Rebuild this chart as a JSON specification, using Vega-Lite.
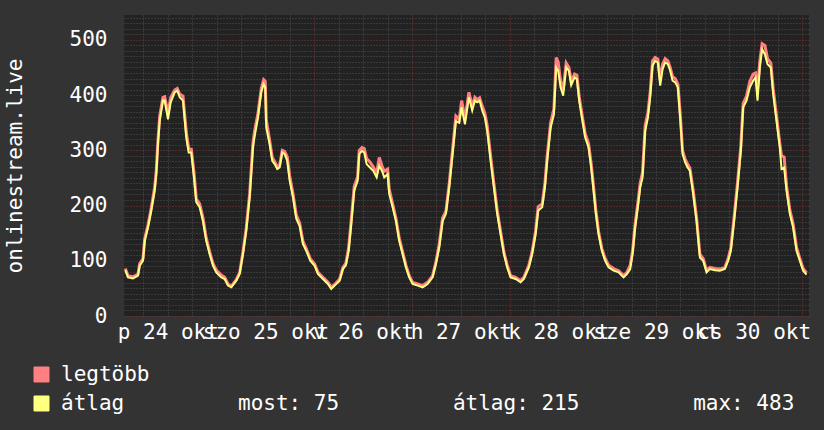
{
  "$schema": "https://vega.github.io/schema/vega-lite/v6.json",
  "width": 685,
  "height": 301,
  "autosize": {"type": "none"},
  "padding": {"left": 124, "top": 15, "right": 15, "bottom": 114},
  "background": "#333333",
  "config": {
    "view": {"fill": "#222222", "stroke": null},
    "font": "DejaVu Sans Mono",
    "axis": {
      "labelFont": "DejaVu Sans Mono",
      "labelFontSize": 21,
      "labelColor": "#ffffff",
      "titleFont": "DejaVu Sans Mono",
      "titleFontSize": 21,
      "titleFontWeight": "normal",
      "titleColor": "#ffffff",
      "domain": false,
      "ticks": false,
      "grid": true,
      "gridWidth": 1,
      "gridDash": [1, 2],
      "gridOpacity": 1
    }
  },
  "data": {
    "values": [
      {"ora": 1.55, "legtöbb": 86, "átlag": 83},
      {"ora": 2.21, "legtöbb": 73, "átlag": 70},
      {"ora": 3.44, "legtöbb": 71, "átlag": 68},
      {"ora": 4.67, "legtöbb": 76, "átlag": 73},
      {"ora": 5.09, "legtöbb": 95, "átlag": 91},
      {"ora": 5.90, "legtöbb": 104, "átlag": 100},
      {"ora": 6.32, "legtöbb": 140, "átlag": 136},
      {"ora": 7.13, "legtöbb": 165, "átlag": 160},
      {"ora": 7.94, "legtöbb": 196, "átlag": 191},
      {"ora": 8.77, "legtöbb": 233, "átlag": 227},
      {"ora": 9.17, "legtöbb": 264, "átlag": 257},
      {"ora": 9.58, "legtöbb": 318, "átlag": 311},
      {"ora": 10.00, "legtöbb": 362, "átlag": 353},
      {"ora": 10.81, "legtöbb": 396, "átlag": 390},
      {"ora": 11.23, "legtöbb": 397, "átlag": 390},
      {"ora": 12.04, "legtöbb": 366, "átlag": 356},
      {"ora": 12.70, "legtöbb": 395, "átlag": 387},
      {"ora": 13.69, "legtöbb": 409, "átlag": 405},
      {"ora": 14.33, "legtöbb": 412, "átlag": 408},
      {"ora": 14.92, "legtöbb": 402, "átlag": 396},
      {"ora": 15.73, "legtöbb": 398, "átlag": 390},
      {"ora": 16.54, "legtöbb": 333, "átlag": 323},
      {"ora": 17.13, "legtöbb": 303, "átlag": 296},
      {"ora": 17.77, "legtöbb": 302, "átlag": 296},
      {"ora": 18.43, "legtöbb": 260, "átlag": 251},
      {"ora": 19.00, "legtöbb": 212, "átlag": 206},
      {"ora": 19.83, "legtöbb": 203, "átlag": 197},
      {"ora": 20.64, "legtöbb": 178, "átlag": 172},
      {"ora": 21.45, "legtöbb": 141, "átlag": 136},
      {"ora": 22.29, "legtöbb": 116, "átlag": 112},
      {"ora": 23.10, "legtöbb": 95, "átlag": 91},
      {"ora": 23.91, "legtöbb": 83, "átlag": 79},
      {"ora": 25.14, "legtöbb": 74, "átlag": 70},
      {"ora": 25.97, "legtöbb": 70, "átlag": 67},
      {"ora": 26.79, "legtöbb": 58, "átlag": 55},
      {"ora": 27.60, "legtöbb": 54, "átlag": 52},
      {"ora": 28.83, "legtöbb": 66, "átlag": 64},
      {"ora": 29.66, "legtöbb": 79, "átlag": 76},
      {"ora": 30.47, "legtöbb": 116, "átlag": 112},
      {"ora": 31.28, "legtöbb": 160, "átlag": 154},
      {"ora": 32.12, "legtöbb": 222, "átlag": 215},
      {"ora": 32.93, "legtöbb": 314, "átlag": 305},
      {"ora": 33.35, "legtöbb": 336, "átlag": 326},
      {"ora": 34.16, "legtöbb": 367, "átlag": 359},
      {"ora": 34.97, "legtöbb": 412, "átlag": 405},
      {"ora": 35.56, "legtöbb": 428, "átlag": 420},
      {"ora": 35.95, "legtöbb": 425, "átlag": 414},
      {"ora": 36.20, "legtöbb": 355, "átlag": 341},
      {"ora": 37.03, "legtöbb": 318, "átlag": 311},
      {"ora": 37.67, "legtöbb": 287, "átlag": 281},
      {"ora": 38.26, "legtöbb": 280, "átlag": 275},
      {"ora": 38.90, "legtöbb": 270, "átlag": 266},
      {"ora": 39.49, "legtöbb": 273, "átlag": 269},
      {"ora": 40.13, "legtöbb": 300, "átlag": 296},
      {"ora": 40.72, "legtöbb": 298, "átlag": 293},
      {"ora": 41.36, "legtöbb": 288, "átlag": 281},
      {"ora": 41.95, "legtöbb": 254, "átlag": 245},
      {"ora": 42.76, "legtöbb": 222, "átlag": 215},
      {"ora": 43.57, "legtöbb": 183, "átlag": 176},
      {"ora": 44.41, "legtöbb": 168, "átlag": 163},
      {"ora": 45.22, "legtöbb": 135, "átlag": 130},
      {"ora": 46.03, "legtöbb": 122, "átlag": 118},
      {"ora": 47.01, "legtöbb": 104, "átlag": 100},
      {"ora": 48.09, "legtöbb": 94, "átlag": 91},
      {"ora": 48.90, "legtöbb": 79, "átlag": 76},
      {"ora": 50.13, "legtöbb": 70, "átlag": 67},
      {"ora": 51.36, "legtöbb": 61, "átlag": 58},
      {"ora": 52.17, "legtöbb": 52, "átlag": 49},
      {"ora": 53.01, "legtöbb": 57, "átlag": 55},
      {"ora": 54.24, "legtöbb": 67, "átlag": 64},
      {"ora": 55.05, "legtöbb": 88, "átlag": 85},
      {"ora": 55.78, "legtöbb": 96, "átlag": 92},
      {"ora": 56.45, "legtöbb": 124, "átlag": 118},
      {"ora": 57.01, "legtöbb": 168, "átlag": 160},
      {"ora": 57.82, "legtöbb": 235, "átlag": 227},
      {"ora": 58.66, "legtöbb": 252, "átlag": 245},
      {"ora": 59.05, "legtöbb": 300, "átlag": 293},
      {"ora": 59.71, "legtöbb": 305, "átlag": 299},
      {"ora": 60.28, "legtöbb": 303, "átlag": 296},
      {"ora": 60.87, "legtöbb": 285, "átlag": 275},
      {"ora": 61.68, "legtöbb": 279, "átlag": 269},
      {"ora": 62.49, "legtöbb": 270, "átlag": 263},
      {"ora": 63.33, "legtöbb": 258, "átlag": 251},
      {"ora": 63.97, "legtöbb": 287, "átlag": 272},
      {"ora": 64.63, "legtöbb": 272, "átlag": 263},
      {"ora": 65.20, "legtöbb": 262, "átlag": 251},
      {"ora": 66.03, "legtöbb": 266, "átlag": 257},
      {"ora": 66.42, "legtöbb": 230, "átlag": 221},
      {"ora": 67.26, "legtöbb": 203, "átlag": 197},
      {"ora": 68.07, "legtöbb": 177, "átlag": 172},
      {"ora": 68.88, "legtöbb": 141, "átlag": 136},
      {"ora": 69.72, "legtöbb": 116, "átlag": 112},
      {"ora": 70.53, "legtöbb": 92, "átlag": 88},
      {"ora": 71.34, "legtöbb": 73, "átlag": 70},
      {"ora": 72.17, "legtöbb": 61, "átlag": 58},
      {"ora": 73.40, "legtöbb": 58, "átlag": 55},
      {"ora": 74.63, "legtöbb": 55, "átlag": 52},
      {"ora": 75.86, "legtöbb": 61, "átlag": 58},
      {"ora": 77.09, "legtöbb": 73, "átlag": 70},
      {"ora": 77.90, "legtöbb": 98, "átlag": 94},
      {"ora": 78.71, "legtöbb": 130, "átlag": 124},
      {"ora": 79.55, "legtöbb": 178, "átlag": 172},
      {"ora": 80.36, "legtöbb": 190, "átlag": 185},
      {"ora": 81.17, "legtöbb": 240, "átlag": 233},
      {"ora": 82.00, "legtöbb": 302, "átlag": 293},
      {"ora": 82.81, "legtöbb": 362, "átlag": 353},
      {"ora": 83.63, "legtöbb": 356, "átlag": 350},
      {"ora": 84.22, "legtöbb": 390, "átlag": 378},
      {"ora": 85.03, "legtöbb": 356, "átlag": 347},
      {"ora": 86.01, "legtöbb": 405, "átlag": 396},
      {"ora": 86.82, "legtöbb": 380, "átlag": 372},
      {"ora": 87.48, "legtöbb": 396, "átlag": 390},
      {"ora": 88.05, "legtöbb": 392, "átlag": 387},
      {"ora": 88.64, "legtöbb": 395, "átlag": 390},
      {"ora": 89.28, "legtöbb": 380, "átlag": 372},
      {"ora": 89.94, "legtöbb": 367, "átlag": 359},
      {"ora": 90.51, "legtöbb": 344, "átlag": 335},
      {"ora": 91.34, "legtöbb": 290, "átlag": 281},
      {"ora": 92.15, "legtöbb": 240, "átlag": 233},
      {"ora": 92.97, "legtöbb": 191, "átlag": 185},
      {"ora": 93.80, "legtöbb": 153, "átlag": 148},
      {"ora": 94.61, "legtöbb": 116, "átlag": 112},
      {"ora": 95.42, "legtöbb": 92, "átlag": 88},
      {"ora": 96.25, "legtöbb": 73, "átlag": 70},
      {"ora": 97.49, "legtöbb": 70, "átlag": 67},
      {"ora": 98.71, "legtöbb": 64, "átlag": 61},
      {"ora": 99.52, "legtöbb": 70, "átlag": 67},
      {"ora": 100.75, "legtöbb": 92, "átlag": 88},
      {"ora": 101.56, "legtöbb": 117, "átlag": 112},
      {"ora": 102.40, "legtöbb": 154, "átlag": 148},
      {"ora": 103.04, "legtöbb": 198, "átlag": 191},
      {"ora": 104.02, "legtöbb": 203, "átlag": 197},
      {"ora": 104.69, "legtöbb": 241, "átlag": 233},
      {"ora": 105.25, "legtöbb": 290, "átlag": 281},
      {"ora": 106.09, "legtöbb": 350, "átlag": 341},
      {"ora": 106.90, "legtöbb": 375, "átlag": 365},
      {"ora": 107.46, "legtöbb": 468, "átlag": 450},
      {"ora": 107.95, "legtöbb": 460, "átlag": 444},
      {"ora": 108.54, "legtöbb": 425, "átlag": 414},
      {"ora": 109.18, "legtöbb": 410, "átlag": 399},
      {"ora": 109.92, "legtöbb": 458, "átlag": 450},
      {"ora": 110.58, "legtöbb": 450, "átlag": 444},
      {"ora": 111.15, "legtöbb": 425, "átlag": 418},
      {"ora": 111.98, "legtöbb": 438, "átlag": 432},
      {"ora": 112.55, "legtöbb": 436, "átlag": 429},
      {"ora": 113.11, "legtöbb": 398, "átlag": 390},
      {"ora": 113.78, "legtöbb": 366, "átlag": 359},
      {"ora": 114.59, "legtöbb": 330, "átlag": 323},
      {"ora": 115.42, "legtöbb": 312, "átlag": 305},
      {"ora": 116.06, "legtöbb": 276, "átlag": 269},
      {"ora": 116.65, "legtöbb": 234, "átlag": 227},
      {"ora": 117.22, "legtöbb": 191, "átlag": 185},
      {"ora": 117.88, "legtöbb": 153, "átlag": 148},
      {"ora": 118.69, "legtöbb": 122, "átlag": 118},
      {"ora": 119.50, "legtöbb": 104, "átlag": 100},
      {"ora": 120.34, "legtöbb": 92, "átlag": 88},
      {"ora": 121.57, "legtöbb": 86, "átlag": 82},
      {"ora": 122.80, "legtöbb": 82, "átlag": 79},
      {"ora": 124.02, "legtöbb": 73, "átlag": 70},
      {"ora": 124.84, "legtöbb": 79, "átlag": 76},
      {"ora": 125.65, "legtöbb": 92, "átlag": 85},
      {"ora": 126.24, "legtöbb": 118, "átlag": 112},
      {"ora": 126.87, "legtöbb": 167, "átlag": 160},
      {"ora": 127.54, "legtöbb": 205, "átlag": 197},
      {"ora": 128.11, "legtöbb": 241, "átlag": 233},
      {"ora": 128.69, "legtöbb": 260, "átlag": 251},
      {"ora": 129.33, "legtöbb": 345, "átlag": 335},
      {"ora": 130.00, "legtöbb": 368, "átlag": 359},
      {"ora": 130.56, "legtöbb": 405, "átlag": 396},
      {"ora": 131.15, "legtöbb": 462, "átlag": 453},
      {"ora": 131.79, "legtöbb": 468, "átlag": 462},
      {"ora": 132.45, "legtöbb": 465, "átlag": 459},
      {"ora": 133.02, "legtöbb": 428, "átlag": 417},
      {"ora": 133.61, "legtöbb": 456, "átlag": 447},
      {"ora": 134.25, "legtöbb": 466, "átlag": 459},
      {"ora": 134.91, "legtöbb": 462, "átlag": 456},
      {"ora": 135.48, "legtöbb": 450, "átlag": 444},
      {"ora": 136.07, "legtöbb": 433, "átlag": 426},
      {"ora": 136.71, "legtöbb": 430, "átlag": 423},
      {"ora": 137.37, "legtöbb": 420, "átlag": 414},
      {"ora": 137.93, "legtöbb": 368, "átlag": 359},
      {"ora": 138.52, "legtöbb": 300, "átlag": 293},
      {"ora": 139.16, "legtöbb": 284, "átlag": 278},
      {"ora": 139.75, "legtöbb": 275, "átlag": 269},
      {"ora": 140.32, "legtöbb": 268, "átlag": 263},
      {"ora": 141.13, "legtöbb": 228, "átlag": 221},
      {"ora": 141.96, "legtöbb": 178, "átlag": 172},
      {"ora": 142.78, "legtöbb": 112, "átlag": 106},
      {"ora": 143.59, "legtöbb": 104, "átlag": 100},
      {"ora": 144.42, "legtöbb": 83, "átlag": 79},
      {"ora": 145.23, "legtöbb": 88, "átlag": 85},
      {"ora": 146.46, "legtöbb": 86, "átlag": 83},
      {"ora": 147.69, "legtöbb": 85, "átlag": 82},
      {"ora": 148.92, "legtöbb": 88, "átlag": 85},
      {"ora": 149.73, "legtöbb": 104, "átlag": 100},
      {"ora": 150.39, "legtöbb": 124, "átlag": 118},
      {"ora": 151.20, "legtöbb": 180, "átlag": 172},
      {"ora": 152.04, "legtöbb": 242, "átlag": 233},
      {"ora": 152.85, "legtöbb": 308, "átlag": 299},
      {"ora": 153.42, "legtöbb": 385, "átlag": 378},
      {"ora": 154.25, "legtöbb": 398, "átlag": 390},
      {"ora": 155.06, "legtöbb": 425, "átlag": 414},
      {"ora": 155.87, "legtöbb": 438, "átlag": 426},
      {"ora": 156.46, "legtöbb": 440, "átlag": 432},
      {"ora": 156.95, "legtöbb": 412, "átlag": 390},
      {"ora": 157.52, "legtöbb": 462, "átlag": 450},
      {"ora": 158.08, "legtöbb": 493, "átlag": 483},
      {"ora": 158.75, "legtöbb": 490, "átlag": 474},
      {"ora": 159.41, "legtöbb": 466, "átlag": 456},
      {"ora": 160.22, "legtöbb": 458, "átlag": 450},
      {"ora": 160.79, "legtöbb": 412, "átlag": 402},
      {"ora": 161.62, "legtöbb": 362, "átlag": 353},
      {"ora": 162.43, "legtöbb": 312, "átlag": 305},
      {"ora": 162.85, "legtöbb": 290, "átlag": 266},
      {"ora": 163.49, "legtöbb": 288, "átlag": 269},
      {"ora": 164.08, "legtöbb": 236, "átlag": 227},
      {"ora": 164.89, "legtöbb": 192, "átlag": 185},
      {"ora": 165.71, "legtöbb": 166, "átlag": 160},
      {"ora": 166.54, "legtöbb": 124, "átlag": 118},
      {"ora": 167.35, "legtöbb": 104, "átlag": 100},
      {"ora": 168.16, "legtöbb": 86, "átlag": 82},
      {"ora": 169.00, "legtöbb": 78, "átlag": 75}
    ]
  },
  "layer": [
    {
      "mark": {"type": "line", "strokeWidth": 3, "strokeJoin": "miter"},
      "encoding": {
        "x": {
          "field": "ora",
          "type": "quantitative",
          "scale": {"domain": [1.23, 169.6], "nice": false, "zero": false},
          "axis": {
            "orient": "bottom",
            "title": null,
            "grid": true,
            "values": [6, 12, 18, 30, 36, 42, 54, 60, 66, 78, 84, 90, 102, 108, 114, 126, 132, 138, 150, 156, 162],
            "gridColor": "#505050",
            "labelExpr": "datum.value % 24 == 12 ? ['p', 'szo', 'v', 'h', 'k', 'sze', 'cs'][floor(datum.value / 24)] + ' ' + (24 + floor(datum.value / 24)) + ' okt' : ''",
            "labelOverlap": false,
            "labelBound": false,
            "labelFlush": false,
            "labelPadding": 5
          }
        },
        "y": {
          "field": "legtöbb",
          "type": "quantitative",
          "scale": {"domain": [0, 545], "nice": false},
          "axis": {
            "orient": "left",
            "title": null,
            "grid": true,
            "labels": false,
            "values": [10, 20, 30, 40, 50, 60, 70, 80, 90, 110, 120, 130, 140, 150, 160, 170, 180, 190, 210, 220, 230, 240, 250, 260, 270, 280, 290, 310, 320, 330, 340, 350, 360, 370, 380, 390, 410, 420, 430, 440, 450, 460, 470, 480, 490, 510, 520, 530, 540],
            "gridColor": "#505050"
          }
        },
        "color": {
          "datum": "legtöbb",
          "type": "nominal",
          "scale": {"domain": ["legtöbb", "átlag"], "range": ["#ff8080", "#ffff80"]},
          "legend": {
            "orient": "none",
            "legendX": -93,
            "legendY": 349,
            "title": null,
            "padding": 0,
            "symbolType": "square",
            "symbolSize": 225,
            "symbolStrokeColor": "#000000",
            "symbolStrokeWidth": 1,
            "labelFont": "DejaVu Sans Mono",
            "labelFontSize": 21,
            "labelColor": "#ffffff",
            "labelOffset": 9,
            "labelLimit": 0,
            "rowPadding": 7,
            "labelExpr": "datum.label == 'átlag' ? 'átlag\u00a0\u00a0\u00a0\u00a0\u00a0\u00a0\u00a0\u00a0\u00a0most: 75\u00a0\u00a0\u00a0\u00a0\u00a0\u00a0\u00a0\u00a0\u00a0átlag: 215\u00a0\u00a0\u00a0\u00a0\u00a0\u00a0\u00a0\u00a0\u00a0max: 483' : datum.label",
            "encode": {
              "symbols": {
                "update": {
                  "fill": {"scale": "color", "field": "value"},
                  "stroke": {"value": "#000000"},
                  "strokeWidth": {"value": 1},
                  "opacity": {"value": 1}
                }
              }
            }
          }
        }
      }
    },
    {
      "mark": {"type": "line", "strokeWidth": 2, "strokeJoin": "miter"},
      "encoding": {
        "x": {
          "field": "ora",
          "type": "quantitative",
          "axis": {
            "orient": "bottom",
            "title": null,
            "grid": true,
            "labels": false,
            "values": [24, 48, 72, 96, 120, 144, 168],
            "gridColor": "#7c3434"
          }
        },
        "y": {
          "field": "átlag",
          "type": "quantitative",
          "axis": {
            "orient": "left",
            "title": "onlinestream.live",
            "grid": true,
            "values": [0, 100, 200, 300, 400, 500],
            "gridColor": "#7c3434",
            "labelPadding": 17,
            "titleX": -103,
            "titleY": 150.5,
            "titleAngle": 270,
            "titleAlign": "center",
            "titleBaseline": "alphabetic"
          }
        },
        "color": {"datum": "átlag", "type": "nominal"}
      }
    }
  ],
  "resolve": {"axis": {"x": "independent", "y": "independent"}}
}
